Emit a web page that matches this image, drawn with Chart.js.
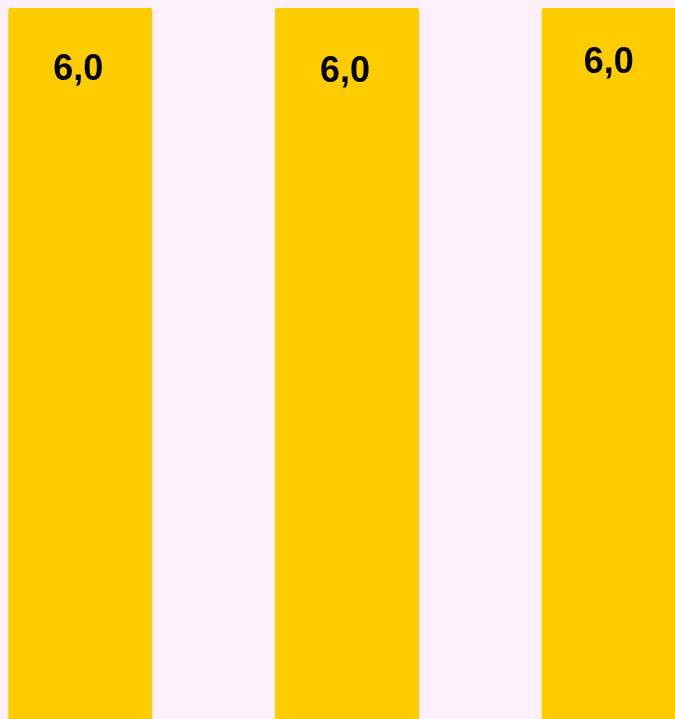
<!DOCTYPE html>
<html>
<head>
<meta charset="utf-8">
<script src="https://cdn.jsdelivr.net/npm/chart.js@4/dist/chart.umd.min.js"></script>
<style>
  html, body { margin: 0; padding: 0; background: #fdf0fb; }
  #wrap { position: relative; width: 675px; height: 719px; overflow: hidden; background: #fdf0fb; }
  #bars { position: absolute; left: -53px; top: 0; }
</style>
</head>
<body>
<div id="wrap"><canvas id="bars" width="800" height="800"></canvas></div>
<script>
const categories = ['1', '2', '3'];
const values = [6.0, 6.0, 6.0];
// label nudges relative to each bar: horizontal shift and distance from bar top to baseline
const labelShiftX = [-2, -2, -5];
const labelOffsets = [72, 74, 65];

const valueLabels = {
  id: 'valueLabels',
  afterDatasetsDraw(chart) {
    const { ctx } = chart;
    const meta = chart.getDatasetMeta(0);
    ctx.save();
    ctx.font = 'bold 36px "Liberation Sans", Arial, sans-serif';
    ctx.fillStyle = '#000';
    ctx.textAlign = 'center';
    ctx.textBaseline = 'alphabetic';
    meta.data.forEach((bar, i) => {
      const text = values[i].toFixed(1).replace('.', ',');
      ctx.fillText(text, bar.x + labelShiftX[i], bar.y + labelOffsets[i]);
    });
    ctx.restore();
  }
};

const bars_ctx = document.getElementById('bars');
new Chart(bars_ctx, {
  type: 'bar',
  data: {
    labels: categories,
    datasets: [{
      data: values,
      backgroundColor: '#ffcc00',
      borderWidth: 0,
      borderRadius: { topLeft: 2, topRight: 2 },
      borderSkipped: 'bottom',
      barPercentage: 0.54,
      categoryPercentage: 1
    }]
  },
  options: {
    responsive: false,
    animation: false,
    devicePixelRatio: 1,
    layout: { padding: { top: 8, bottom: 0, left: 0, right: 0 } },
    plugins: {
      legend: { display: false },
      tooltip: { enabled: false }
    },
    scales: {
      x: { display: false, grid: { display: false } },
      y: { display: false, min: 0, max: 6, grid: { display: false } }
    }
  },
  plugins: [valueLabels]
});
</script>
</body>
</html>
